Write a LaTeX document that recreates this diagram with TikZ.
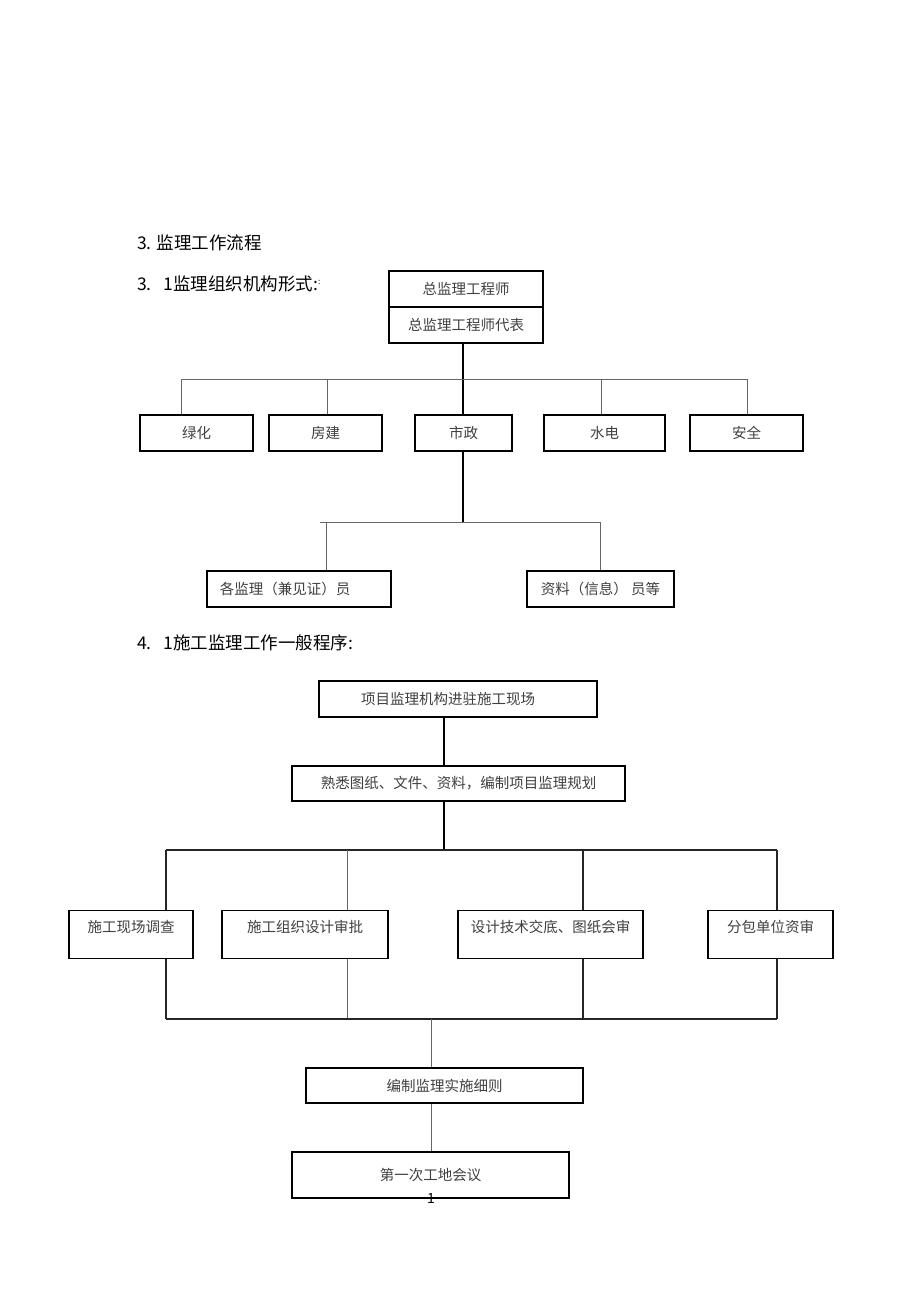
\documentclass[tikz,border=0pt]{standalone}
\usepackage{fontspec}
\setmainfont{Noto Sans CJK SC}
\begin{document}
\begin{tikzpicture}[x=1pt,y=-1pt,
  box/.style={draw=black,line width=1.1pt,inner sep=0pt,font=\fontsize{14.5}{15}\selectfont,text=black!75},
  head/.style={anchor=west,inner sep=0pt,font=\fontsize{17.5}{19}\selectfont},
  main/.style={draw=black,line width=1.5pt},
  thin/.style={draw=black!60,line width=1pt},
  mid/.style={draw=black!85,line width=1.2pt}]
\path[use as bounding box,fill=white] (0,0) rectangle (920,1303);

% headings
\node[head] (h1) at (137,243) {3. 监理工作流程};
\node[head] (h2) at (137,284) {3.\ \ \ 1监理组织机构形式:\raisebox{6pt}{\fontsize{8}{8}\selectfont :}};
\node[head] (h3) at (137,643) {4.\ \ \ 1施工监理工作一般程序:};

% organisation chart
\node[box,minimum width=154pt,minimum height=36pt] (t1) at (466,289) {总监理工程师};
\node[box,minimum width=154pt,minimum height=36pt] (t2) at (466,325) {总监理工程师代表};
\node[box,minimum width=113pt,minimum height=36pt] (lh) at (196.5,433) {绿化};
\node[box,minimum width=113pt,minimum height=36pt] (fj) at (325.5,433) {房建};
\node[box,minimum width=97pt,minimum height=36pt] (sz) at (463.5,433) {市政};
\node[box,minimum width=121pt,minimum height=36pt] (sd) at (604.5,433) {水电};
\node[box,minimum width=113pt,minimum height=36pt] (aq) at (746.5,433) {安全};
\node[box,minimum width=184pt,minimum height=36pt] (gj) at (299,589) {\hspace*{-28pt}各监理（兼见证）员};
\node[box,minimum width=147pt,minimum height=36pt] (zl) at (600.5,589) {资料（信息） 员等};

\coordinate (a1) at (181,379);
\coordinate (a2) at (327,379);
\coordinate (a3) at (463,379);
\coordinate (a4) at (601,379);
\coordinate (a5) at (747,379);
\draw[main] (a3 |- t2.south) -- (a3 |- sz.north);
\draw[thin] (a1) -- (a5);
\draw[thin] (a1) -- (a1 |- lh.north);
\draw[thin] (a2) -- (a2 |- fj.north);
\draw[thin] (a4) -- (a4 |- sd.north);
\draw[thin] (a5) -- (a5 |- aq.north);

\coordinate (b0) at (320,522);
\coordinate (b1) at (326,522);
\coordinate (b2) at (463,522);
\coordinate (b3) at (600,522);
\draw[main] (b2 |- sz.south) -- (b2);
\draw[thin] (b0) -- (b3);
\draw[thin] (b1) -- (b1 |- gj.north);
\draw[thin] (b3) -- (b3 |- zl.north);

% procedure chart
\node[box,minimum width=278pt,minimum height=36pt] (p1) at (458,699) {\hspace*{-20pt}项目监理机构进驻施工现场};
\node[box,minimum width=333pt,minimum height=35pt] (p2) at (458.5,783.5) {熟悉图纸、文件、资料，编制项目监理规划};
\node[box,minimum width=124pt,text height=22pt,text depth=26pt] (q1) at (131,910) [anchor=north] {施工现场调查};
\node[box,minimum width=166pt,text height=22pt,text depth=26pt] (q2) at (305,910) [anchor=north] {施工组织设计审批};
\node[box,minimum width=185pt,text height=22pt,text depth=26pt] (q3) at (550.5,910) [anchor=north] {设计技术交底、图纸会审};
\node[box,minimum width=125pt,text height=22pt,text depth=26pt] (q4) at (770.5,910) [anchor=north] {分包单位资审};
\node[box,minimum width=277pt,minimum height=35pt] (p3) at (444.5,1085.5) {编制监理实施细则};
\node[box,minimum width=277pt,minimum height=46pt] (p4) at (430.5,1175) {\raisebox{2pt}{第一次工地会议}};
\node[inner sep=0pt,font=\fontsize{14}{15}\selectfont] (pg) at (431,1198) {1};

\coordinate (c0) at (444,850);
\coordinate (c1) at (166,850);
\coordinate (c2) at (347,850);
\coordinate (c3) at (583,850);
\coordinate (c4) at (777,850);
\coordinate (e0) at (431,1019);
\coordinate (e1) at (166,1019);
\coordinate (e2) at (347,1019);
\coordinate (e3) at (583,1019);
\coordinate (e4) at (777,1019);
\draw[main] (c0 |- p1.south) -- (c0 |- p2.north);
\draw[main] (c0 |- p2.south) -- (c0);
\draw[mid] (c1) -- (c4);
\draw[mid] (c1) -- (c1 |- q1.north);
\draw[thin] (c2) -- (c2 |- q2.north);
\draw[mid] (c3) -- (c3 |- q3.north);
\draw[mid] (c4) -- (c4 |- q4.north);
\draw[mid] (e1 |- q1.south) -- (e1);
\draw[thin] (e2 |- q2.south) -- (e2);
\draw[mid] (e3 |- q3.south) -- (e3);
\draw[mid] (e4 |- q4.south) -- (e4);
\draw[mid] (e1) -- (e4);
\draw[thin] (e0) -- (e0 |- p3.north);
\draw[thin] (e0 |- p3.south) -- (e0 |- p4.north);
\end{tikzpicture}
\end{document}
